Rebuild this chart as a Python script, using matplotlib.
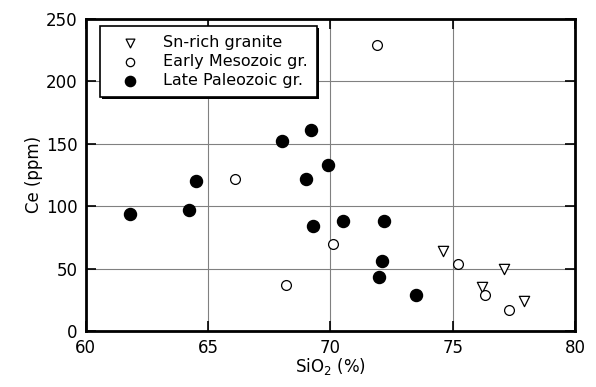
import matplotlib.pyplot as plt
from matplotlib import patheffects

plt.rcParams['font.family'] = ['DejaVu Sans']

# Sn-rich granite
sn_sio2 = [74.6, 76.2, 77.1, 77.9]
sn_ce = [64, 35, 50, 24]

# Early Mesozoic granites
em_sio2 = [71.9, 66.1, 68.2, 70.1, 75.2, 76.3, 77.3]
em_ce = [229, 122, 37, 70, 54, 29, 17]

# Late Paleozoic granites
lp_sio2 = [61.8, 64.2, 64.5, 68.0, 69.2, 69.9, 69.0, 69.3, 70.5, 72.2, 72.1, 72.0, 73.5]
lp_ce = [94, 97, 120, 152, 161, 133, 122, 84, 88, 88, 56, 43, 29]

fig = plt.figure(figsize=(5.96, 3.87), dpi=100)
ax = fig.add_axes([0.144, 0.145, 0.821, 0.806])

ax.scatter(sn_sio2, sn_ce, marker='v', s=55, facecolors='white',
           edgecolors='black', linewidths=0.9, label='Sn-rich granite', zorder=3)
ax.scatter(em_sio2, em_ce, marker='o', s=50, facecolors='white',
           edgecolors='black', linewidths=0.9, label='Early Mesozoic gr.', zorder=3)
ax.scatter(lp_sio2, lp_ce, marker='o', s=75, facecolors='black',
           edgecolors='black', label='Late Paleozoic gr.', zorder=3)

ax.set_xlim(60, 80)
ax.set_ylim(0, 250)
ax.set_xticks([60, 65, 70, 75, 80])
ax.set_yticks([0, 50, 100, 150, 200, 250])
ax.grid(True, color='#808080', linewidth=0.8)
ax.tick_params(direction='in', length=7, width=1.2, top=True, right=True,
               labelsize=12, pad=6)
for sp in ax.spines.values():
    sp.set_linewidth(2)

ax.set_xlabel('SiO$_2$ (%)', fontsize=12, labelpad=-1)
ax.set_ylabel('Ce (ppm)', fontsize=12, labelpad=2)

leg = ax.legend(loc='upper left', bbox_to_anchor=(0.029, 0.977), fontsize=11.5,
                frameon=True, fancybox=False, edgecolor='black',
                handletextpad=0.8, labelspacing=0.25, borderpad=0.55,
                handlelength=2.6, borderaxespad=0, markerscale=0.85)
frame = leg.get_frame()
frame.set_linewidth(1.2)
frame.set_alpha(1)
frame.set_path_effects([patheffects.withSimplePatchShadow(
    offset=(1.5, -1.5), shadow_rgbFace='black', alpha=1)])

plt.savefig('out.png', dpi=100)
